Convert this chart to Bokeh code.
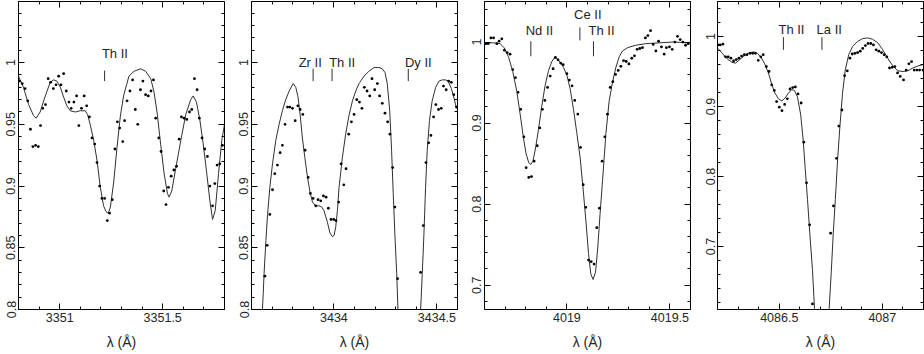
import numpy as np
from bokeh.plotting import figure
from bokeh.models import (SingleIntervalTicker, CustomJSTickFormatter, Range1d,
                          LinearAxis, ColumnDataSource)
from bokeh.layouts import row
from bokeh.core.properties import value
from bokeh.embed import file_html
from bokeh.resources import INLINE

nan = float("nan")

# ---------------- Panel 1 : 3351 A ----------------
p1_wave = [3350.805, 3350.818, 3350.832, 3350.845, 3350.858, 3350.870, 3350.883, 3350.896, 3350.907, 3350.918,
           3350.931, 3350.944, 3350.956, 3350.969, 3350.982, 3350.995, 3351.006, 3351.019, 3351.032, 3351.045,
           3351.056, 3351.069, 3351.082, 3351.093, 3351.106, 3351.119, 3351.131, 3351.144, 3351.157, 3351.170,
           3351.181, 3351.194, 3351.205, 3351.218, 3351.231, 3351.242, 3351.255, 3351.268, 3351.280, 3351.291,
           3351.306, 3351.315, 3351.327, 3351.341, 3351.354, 3351.367, 3351.379, 3351.392, 3351.404, 3351.417,
           3351.430, 3351.443, 3351.455, 3351.466, 3351.481, 3351.492, 3351.505, 3351.516, 3351.528, 3351.541,
           3351.554, 3351.567, 3351.580, 3351.591, 3351.604, 3351.617, 3351.630, 3351.641, 3351.654, 3351.667,
           3351.678, 3351.691, 3351.704, 3351.717, 3351.729, 3351.742, 3351.753, 3351.764, 3351.777, 3351.790]
p1_flux = [0.985, 0.983, 0.979, 0.969, 0.946, 0.932, 0.933, 0.932, 0.949, 0.963,
           0.966, 0.987, 0.984, 0.979, 0.982, 0.989, 0.982, 0.991, 0.977, 0.968,
           0.963, 0.968, 0.973, 0.949, 0.963, 0.973, 0.965, 0.956, 0.939, 0.934,
           0.919, 0.900, 0.890, 0.890, 0.872, 0.878, 0.889, 0.930, 0.952, 0.947,
           0.936, 0.953, 0.969, 0.977, 0.986, 0.962, 0.950, 0.978, 0.985, 0.974,
           0.973, 0.977, 0.986, 0.955, 0.939, 0.928, 0.896, 0.885, 0.899, 0.908,
           0.913, 0.916, 0.938, 0.956, 0.955, 0.954, 0.960, 0.962, 0.987, 0.978,
           0.955, 0.939, 0.930, 0.924, 0.900, 0.884, 0.902, 0.917, 0.918, 0.933]
p1_model_wave = [3350.800, 3350.824, 3350.849, 3350.873, 3350.886, 3350.905, 3350.930, 3350.954, 3350.970, 3350.986,
                 3351.003, 3351.019, 3351.035, 3351.051, 3351.076, 3351.100, 3351.124, 3351.135, 3351.148, 3351.165,
                 3351.181, 3351.197, 3351.213, 3351.226, 3351.236, 3351.246, 3351.262, 3351.278, 3351.294, 3351.310,
                 3351.336, 3351.361, 3351.393, 3351.417, 3351.442, 3351.458, 3351.474, 3351.490, 3351.507, 3351.523,
                 3351.531, 3351.544, 3351.563, 3351.588, 3351.612, 3351.636, 3351.648, 3351.664, 3351.680, 3351.696,
                 3351.712, 3351.729, 3351.742, 3351.755, 3351.771, 3351.787, 3351.800]
p1_model_flux = [0.989, 0.980, 0.966, 0.957, 0.955, 0.960, 0.973, 0.984, 0.986, 0.985,
                 0.980, 0.972, 0.965, 0.961, 0.960, 0.961, 0.961, 0.958, 0.950, 0.937,
                 0.921, 0.899, 0.884, 0.879, 0.878, 0.883, 0.903, 0.931, 0.956, 0.973,
                 0.989, 0.993, 0.995, 0.993, 0.987, 0.976, 0.958, 0.934, 0.910, 0.894,
                 0.891, 0.896, 0.914, 0.937, 0.958, 0.970, 0.973, 0.968, 0.954, 0.935,
                 0.913, 0.888, 0.873, 0.880, 0.910, 0.937, 0.950]
p1_ions = ["Th II"]
p1_ion_wave = [3351.218]
p1_label_wave = [3351.205]
p1_mark_lo = [0.985]
p1_mark_hi = [0.9935]
p1_label_y = [1.0074]

# ---------------- Panel 2 : 3434 A ----------------
p2_wave = [3433.665, 3433.676, 3433.689, 3433.702, 3433.713, 3433.726, 3433.739, 3433.750, 3433.763, 3433.775,
           3433.786, 3433.799, 3433.812, 3433.825, 3433.836, 3433.849, 3433.860, 3433.875, 3433.886, 3433.899,
           3433.912, 3433.923, 3433.936, 3433.949, 3433.962, 3433.973, 3433.986, 3433.999, 3434.010, 3434.023,
           3434.035, 3434.048, 3434.059, 3434.072, 3434.085, 3434.098, 3434.111, 3434.124, 3434.136, 3434.148,
           3434.161, 3434.174, 3434.185, 3434.198, 3434.211, 3434.222, 3434.235, 3434.248, 3434.261, 3434.272,
           3434.285, 3434.296, 3434.309, 3434.421, 3434.434, 3434.447, 3434.460, 3434.471, 3434.484, 3434.495,
           3434.508, 3434.521, 3434.532, 3434.545, 3434.557, 3434.570, 3434.582, 3434.595]
p2_flux = [0.827, 0.852, 0.877, 0.897, 0.910, 0.917, 0.927, 0.933, 0.950, 0.964,
           0.964, 0.963, 0.953, 0.965, 0.962, 0.958, 0.929, 0.907, 0.894, 0.890,
           0.884, 0.889, 0.888, 0.892, 0.891, 0.882, 0.873, 0.873, 0.872, 0.887,
           0.918, 0.901, 0.914, 0.942, 0.952, 0.958, 0.970, 0.968, 0.963, 0.980,
           0.977, 0.973, 0.987, 0.978, 0.983, 0.973, 0.967, 0.959, 0.952, 0.942,
           0.915, 0.883, 0.825, 0.830, 0.868, 0.919, 0.935, 0.941, 0.956, 0.966,
           0.962, 0.963, 0.981, 0.978, 0.985, 0.984, 0.974, 0.964]
p2_model_wave = [3433.653, 3433.657, 3433.661, 3433.670, 3433.678, 3433.689, 3433.702, 3433.718, 3433.734, 3433.750,
                 3433.766, 3433.783, 3433.802, 3433.815, 3433.826, 3433.836, 3433.847, 3433.859, 3433.872, 3433.884,
                 3433.896, 3433.912, 3433.928, 3433.941, 3433.952, 3433.968, 3433.981, 3433.993, 3434.001, 3434.009,
                 3434.017, 3434.025, 3434.041, 3434.057, 3434.073, 3434.090, 3434.106, 3434.122, 3434.146, 3434.170,
                 3434.195, 3434.219, 3434.235, 3434.248, 3434.259, 3434.271, 3434.280, 3434.288, 3434.296, 3434.305,
                 3434.311, nan, 3434.421, 3434.429, 3434.437, 3434.445, 3434.453, 3434.464, 3434.477, 3434.494,
                 3434.510, 3434.526, 3434.542, 3434.555, 3434.570, 3434.582, 3434.595]
p2_model_flux = [0.800, 0.813, 0.829, 0.856, 0.877, 0.899, 0.918, 0.937, 0.950, 0.961,
                 0.970, 0.977, 0.983, 0.980, 0.972, 0.958, 0.939, 0.923, 0.907, 0.895,
                 0.887, 0.884, 0.884, 0.883, 0.880, 0.871, 0.862, 0.859, 0.860, 0.867,
                 0.880, 0.899, 0.923, 0.942, 0.957, 0.969, 0.977, 0.983, 0.989, 0.993,
                 0.996, 0.996, 0.995, 0.992, 0.983, 0.961, 0.929, 0.894, 0.861, 0.829,
                 0.800, nan, 0.800, 0.829, 0.861, 0.899, 0.929, 0.953, 0.969, 0.980,
                 0.985, 0.986, 0.986, 0.985, 0.979, 0.972, 0.963]
p2_ions = ["Zr II", "Th II", "Dy II"]
p2_ion_wave = [3433.899, 3433.991, 3434.361]
p2_label_wave = [3433.829, 3433.977, 3434.345]
p2_mark_lo = [0.985, 0.985, 0.985]
p2_mark_hi = [0.995, 0.995, 0.995]
p2_label_y = [1.0004, 1.0004, 1.0004]

# ---------------- Panel 3 : 4019 A ----------------
p3_wave = [4018.606, 4018.618, 4018.631, 4018.644, 4018.660, 4018.671, 4018.684, 4018.697, 4018.710, 4018.724,
           4018.737, 4018.750, 4018.763, 4018.776, 4018.791, 4018.802, 4018.815, 4018.828, 4018.841, 4018.856,
           4018.868, 4018.881, 4018.893, 4018.906, 4018.919, 4018.933, 4018.944, 4018.957, 4018.970, 4018.982,
           4019.000, 4019.012, 4019.025, 4019.038, 4019.053, 4019.066, 4019.079, 4019.092, 4019.105, 4019.118,
           4019.132, 4019.145, 4019.158, 4019.171, 4019.184, 4019.197, 4019.210, 4019.223, 4019.236, 4019.249,
           4019.262, 4019.275, 4019.288, 4019.301, 4019.315, 4019.328, 4019.341, 4019.354, 4019.367, 4019.381,
           4019.393, 4019.406, 4019.419, 4019.432, 4019.445, 4019.459, 4019.472, 4019.483, 4019.498, 4019.511,
           4019.524, 4019.537, 4019.550, 4019.563, 4019.576, 4019.589]
p3_flux = [0.998, 0.998, 1.005, 1.005, 0.998, 1.001, 1.004, 0.990, 0.987, 0.985,
           0.966, 0.956, 0.938, 0.917, 0.883, 0.845, 0.833, 0.834, 0.853, 0.872,
           0.894, 0.917, 0.928, 0.944, 0.958, 0.967, 0.981, 0.978, 0.974, 0.972,
           0.961, 0.953, 0.946, 0.928, 0.911, 0.870, 0.824, 0.796, 0.731, 0.729,
           0.726, 0.771, 0.795, 0.853, 0.883, 0.911, 0.944, 0.951, 0.960, 0.965,
           0.970, 0.977, 0.976, 0.973, 0.980, 0.983, 0.991, 0.992, 0.993, 1.005,
           1.008, 1.014, 0.997, 0.989, 1.001, 0.994, 0.985, 0.993, 0.994, 0.991,
           1.000, 1.007, 1.003, 1.000, 0.996, 0.998]
p3_model_wave = [4018.603, 4018.644, 4018.676, 4018.695, 4018.716, 4018.737, 4018.757, 4018.773, 4018.789, 4018.802,
                 4018.815, 4018.825, 4018.835, 4018.847, 4018.862, 4018.878, 4018.894, 4018.911, 4018.927, 4018.938,
                 4018.951, 4018.967, 4018.983, 4019.000, 4019.016, 4019.032, 4019.048, 4019.064, 4019.080, 4019.092,
                 4019.105, 4019.116, 4019.127, 4019.139, 4019.150, 4019.161, 4019.173, 4019.189, 4019.205, 4019.221,
                 4019.237, 4019.254, 4019.270, 4019.294, 4019.334, 4019.383, 4019.448, 4019.517, 4019.595]
p3_model_flux = [0.999, 0.999, 0.998, 0.993, 0.982, 0.964, 0.939, 0.911, 0.882, 0.862,
                 0.851, 0.849, 0.853, 0.868, 0.892, 0.921, 0.946, 0.965, 0.976, 0.980,
                 0.980, 0.975, 0.969, 0.959, 0.942, 0.917, 0.888, 0.858, 0.815, 0.780,
                 0.739, 0.714, 0.707, 0.716, 0.747, 0.788, 0.829, 0.886, 0.927, 0.950,
                 0.968, 0.982, 0.989, 0.993, 0.996, 0.998, 0.999, 1.000, 0.999]
p3_ions = ["Nd II", "Ce II", "Th II"]
p3_ion_wave = [4018.825, 4019.063, 4019.129]
p3_label_wave = [4018.800, 4019.035, 4019.105]
p3_mark_lo = [0.9824, 1.002, 0.9824]
p3_mark_hi = [1.0009, 1.018, 1.0009]
p3_label_y = [1.0145, 1.0345, 1.0145]

# ---------------- Panel 4 : 4086 A ----------------
p4_wave = [4086.202, 4086.213, 4086.226, 4086.239, 4086.252, 4086.265, 4086.278, 4086.291, 4086.304, 4086.317,
           4086.330, 4086.343, 4086.358, 4086.371, 4086.384, 4086.398, 4086.410, 4086.422, 4086.437, 4086.450,
           4086.463, 4086.476, 4086.487, 4086.500, 4086.513, 4086.526, 4086.539, 4086.552, 4086.565, 4086.578,
           4086.591, 4086.606, 4086.619, 4086.632, 4086.647, 4086.661,
           4086.749, 4086.763, 4086.778, 4086.789, 4086.804, 4086.817, 4086.830, 4086.843,
           4086.854, 4086.867, 4086.880, 4086.893, 4086.905, 4086.918, 4086.931, 4086.944, 4086.957, 4086.970,
           4086.983, 4086.996, 4087.009, 4087.022, 4087.035, 4087.048, 4087.061, 4087.074, 4087.087, 4087.103,
           4087.116, 4087.129, 4087.142, 4087.155, 4087.168, 4087.181, 4087.197]
p4_flux = [0.988, 0.988, 0.989, 0.971, 0.971, 0.969, 0.965, 0.967, 0.969, 0.972,
           0.974, 0.974, 0.976, 0.976, 0.976, 0.966, 0.971, 0.974, 0.957, 0.950,
           0.931, 0.923, 0.907, 0.899, 0.894, 0.903, 0.911, 0.925, 0.927, 0.928,
           0.918, 0.905, 0.849, 0.791, 0.731, 0.618,
           0.719, 0.758, 0.826, 0.872, 0.895, 0.944, 0.951, 0.969,
           0.975, 0.976, 0.977, 0.979, 0.983, 0.987, 0.990, 0.990, 0.988, 0.981,
           0.979, 0.977, 0.974, 0.971, 0.955, 0.956, 0.957, 0.948, 0.943, 0.938,
           0.952, 0.961, 0.964, 0.952, 0.952, 0.952, 0.952]
p4_model_wave = [4086.202, 4086.223, 4086.247, 4086.271, 4086.288, 4086.304, 4086.328, 4086.356, 4086.377, 4086.393,
                 4086.410, 4086.429, 4086.447, 4086.463, 4086.479, 4086.496, 4086.512, 4086.528, 4086.544, 4086.560,
                 4086.573, 4086.588, 4086.604, 4086.616, 4086.625, 4086.637, 4086.648, 4086.661, 4086.671, nan,
                 4086.742, 4086.752, 4086.762, 4086.772, 4086.783, 4086.794, 4086.807, 4086.820, 4086.837, 4086.856,
                 4086.880, 4086.905, 4086.929, 4086.953, 4086.978, 4087.002, 4087.026, 4087.051, 4087.075, 4087.100,
                 4087.124, 4087.148, 4087.173, 4087.200]
p4_model_flux = [0.983, 0.976, 0.968, 0.963, 0.962, 0.966, 0.972, 0.977, 0.978, 0.976,
                 0.971, 0.961, 0.948, 0.932, 0.919, 0.911, 0.908, 0.912, 0.919, 0.924,
                 0.923, 0.914, 0.888, 0.852, 0.814, 0.767, 0.719, 0.667, 0.611, nan,
                 0.611, 0.662, 0.719, 0.767, 0.824, 0.871, 0.919, 0.952, 0.974, 0.986,
                 0.993, 0.997, 0.998, 0.996, 0.991, 0.981, 0.969, 0.958, 0.951, 0.950,
                 0.951, 0.955, 0.958, 0.960]
p4_ions = ["Th II", "La II"]
p4_ion_wave = [4086.520, 4086.707]
p4_label_wave = [4086.496, 4086.681]
p4_mark_lo = [0.981, 0.981]
p4_mark_hi = [0.999, 0.999]
p4_label_y = [1.0105, 1.0105]

FONT = "Liberation Sans"
TXT = "#262626"
FMT = "return String(Math.round(tick*1000)/1000);"


def style_axis(ax, interval, labels=True, vertical=False, standoff=3):
    ax.ticker = SingleIntervalTicker(interval=interval, num_minor_ticks=5)
    ax.formatter = CustomJSTickFormatter(code=FMT)
    ax.axis_line_color = None
    ax.major_tick_in = 6
    ax.major_tick_out = 0
    ax.minor_tick_in = 3
    ax.minor_tick_out = 0
    ax.major_tick_line_color = "black"
    ax.minor_tick_line_color = "black"
    if labels:
        ax.major_label_text_font = FONT
        ax.major_label_text_font_size = "12.5px"
        ax.major_label_text_color = TXT
        ax.major_label_standoff = standoff
        if vertical:
            ax.major_label_orientation = "vertical"
    else:
        ax.major_label_text_color = None
        ax.major_label_text_font_size = "1px"
        ax.major_label_standoff = 0


def make_panel(wave, flux, mwave, mflux, ions, ion_wave, label_wave, mlo, mhi, ly,
               xr, yr, yint, width, bl, br):
    p = figure(width=width, height=354, x_range=Range1d(*xr), y_range=Range1d(*yr),
               output_backend="svg", toolbar_location=None,
               min_border_left=bl, min_border_right=br, min_border_top=1, min_border_bottom=45)
    p.xgrid.visible = False
    p.ygrid.visible = False
    p.outline_line_color = "black"
    p.outline_line_width = 1
    p.background_fill_color = "white"
    p.border_fill_color = "white"

    xa = p.xaxis[0]
    style_axis(xa, 0.5, labels=True, standoff=3)
    xa.axis_label = "λ (Å)"
    xa.axis_label_text_font = FONT
    xa.axis_label_text_font_size = "14px"
    xa.axis_label_text_font_style = "normal"
    xa.axis_label_text_color = TXT
    xa.axis_label_standoff = 9

    ya = p.yaxis[0]
    style_axis(ya, yint, labels=True, vertical=True, standoff=3)

    top = LinearAxis()
    style_axis(top, 0.5, labels=False)
    p.add_layout(top, "above")
    right = LinearAxis()
    style_axis(right, yint, labels=False)
    p.add_layout(right, "right")

    p.line(np.array(mwave, dtype=float), np.array(mflux, dtype=float),
           line_color="#303030", line_width=1)
    p.scatter(wave, flux, marker="circle", size=2.8, fill_color="black", line_color=None)

    src = ColumnDataSource(dict(name=ions, x=ion_wave, lx=label_wave, lo=mlo, hi=mhi, ly=ly))
    p.segment(x0="x", y0="lo", x1="x", y1="hi", source=src, line_color="#303030", line_width=1)
    p.text(x="lx", y="ly", text="name", source=src, text_align="left", text_baseline="middle",
           text_font=value(FONT), text_font_size="13px", text_color=TXT)
    return p


f1 = make_panel(p1_wave, p1_flux, p1_model_wave, p1_model_flux, p1_ions, p1_ion_wave, p1_label_wave,
                p1_mark_lo, p1_mark_hi, p1_label_y, (3350.8, 3351.8), (0.8, 1.0495), 0.05, 233, 18, 9)
f2 = make_panel(p2_wave, p2_flux, p2_model_wave, p2_model_flux, p2_ions, p2_ion_wave, p2_label_wave,
                p2_mark_lo, p2_mark_hi, p2_label_y, (3433.6, 3434.6), (0.8, 1.0495), 0.05, 233, 18, 9)
f3 = make_panel(p3_wave, p3_flux, p3_model_wave, p3_model_flux, p3_ions, p3_ion_wave, p3_label_wave,
                p3_mark_lo, p3_mark_hi, p3_label_y, (4018.6, 4019.6), (0.67, 1.05), 0.1, 233, 18, 9)
f4 = make_panel(p4_wave, p4_flux, p4_model_wave, p4_model_flux, p4_ions, p4_ion_wave, p4_label_wave,
                p4_mark_lo, p4_mark_hi, p4_label_y, (4086.2, 4087.2), (0.61, 1.05), 0.1, 225, 18, 1)

layout = row(f1, f2, f3, f4, spacing=0)

with open("out.html", "w") as fh:
    fh.write(file_html(layout, INLINE))
